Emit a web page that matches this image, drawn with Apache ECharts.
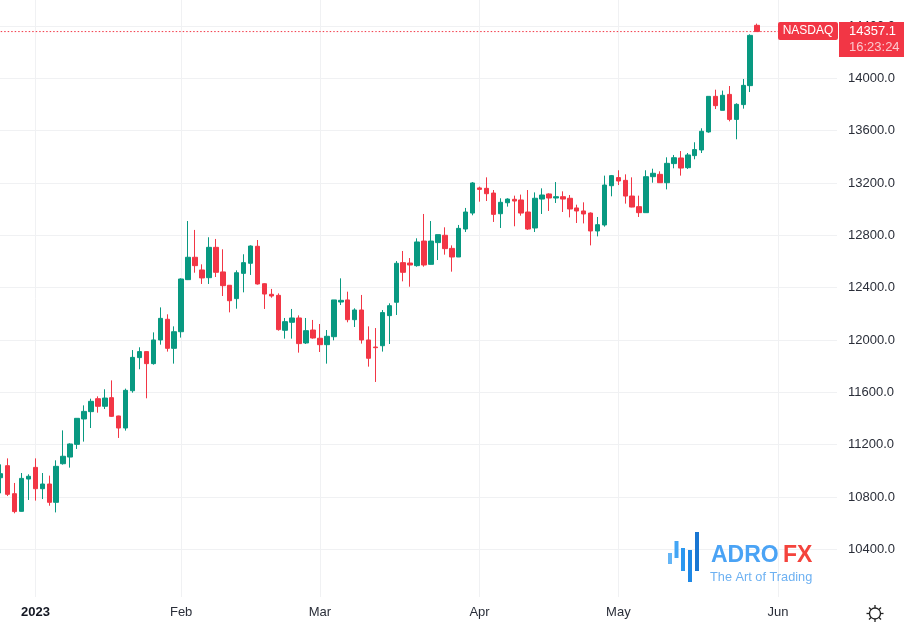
<!DOCTYPE html>
<html><head><meta charset="utf-8">
<style>html,body{margin:0;padding:0;background:#fff}#c{width:904px;height:624px}</style>
<script src="https://cdn.jsdelivr.net/npm/echarts@6/dist/echarts.min.js"></script>
</head><body><div id="c"></div>
<script>
const categories = ['12-26','12-27','12-28','12-29','12-30',
'01-03','01-04','01-05','01-06','01-09','01-10','01-11','01-12','01-13','01-16','01-17','01-18','01-19','01-20','01-23','01-24','01-25','01-26','01-27','01-30','01-31',
'02-01','02-02','02-03','02-06','02-07','02-08','02-09','02-10','02-13','02-14','02-15','02-16','02-17','02-20','02-21','02-22','02-23','02-24','02-27','02-28',
'03-01','03-02','03-03','03-06','03-07','03-08','03-09','03-10','03-13','03-14','03-15','03-16','03-17','03-20','03-21','03-22','03-23','03-24','03-27','03-28','03-29','03-30','03-31',
'04-03','04-04','04-05','04-06','04-07','04-10','04-11','04-12','04-13','04-14','04-17','04-18','04-19','04-20','04-21','04-24','04-25','04-26','04-27','04-28',
'05-01','05-02','05-03','05-04','05-05','05-08','05-09','05-10','05-11','05-12','05-15','05-16','05-17','05-18','05-19','05-22','05-23','05-24','05-25','05-26','05-29','05-30','05-31',
'06-01','06-02','06-05','06-06','06-07','06-08','06-09','06-12','06-13'];
const open = [10947,11039,10825,10690,10937,11026,10863,10899,10759,11054,11105,11202,11396,11452,11551,11493,11559,11419,11327,11612,11865,11911,11819,12000,12158,11936,
12063,12461,12632,12535,12476,12708,12520,12418,12316,12509,12586,12716,12430,12349,12341,12074,12135,12168,11977,12076,12013,11964,12025,12290,12306,12155,12229,12000,11946,11956,12186,12288,
12591,12588,12568,12756,12578,12744,12800,12700,12634,12848,12970,13162,13159,13123,12965,13049,13075,13070,12978,12856,13077,13116,13085,13095,13083,13009,12986,12970,12833,
12879,13179,13241,13220,13100,13019,12973,13248,13266,13202,13348,13391,13317,13409,13452,13590,13862,13755,13877,13686,13799,13944,14405];
const close = [10978,10820,10688,10942,10958,10863,10899,10759,11034,11111,11205,11401,11454,11531,11493,11556,11416,11327,11615,11867,11911,11819,12000,12165,11936,12063,
12466,12632,12568,12474,12708,12517,12415,12300,12514,12591,12718,12428,12351,12336,12079,12140,12168,11972,12071,12015,11964,12028,12306,12303,12155,12229,12000,11860,11941,12209,12262,12586,
12517,12573,12749,12573,12756,12805,12698,12634,12853,12978,13200,13151,13118,12960,13052,13077,13062,12970,12848,13083,13108,13085,13095,13077,13001,12986,12963,12833,12881,
13184,13256,13215,13100,13016,12973,13248,13274,13202,13350,13393,13314,13414,13455,13595,13862,13791,13870,13686,13801,13946,14328,14357.1];
const low = [10828,10807,10675,10688,10777,10772,10784,10733,10682,11047,11024,11167,11223,11327,11444,11472,11411,11251,11307,11597,11776,11554,11811,11964,11911,11819,
12018,12458,12514,12428,12428,12481,12336,12211,12239,12364,12497,12423,12237,12323,12071,12010,12010,11903,11969,12010,11908,11819,11997,12267,12135,12099,11972,11796,11679,11911,11969,12191,
12448,12407,12560,12560,12576,12611,12652,12522,12634,12825,12953,13057,13062,12902,12856,13019,12869,12950,12841,12825,12963,12986,13047,12978,12937,12894,12891,12723,12792,
12866,13098,13184,13042,13014,12940,12973,13202,13200,13151,13312,13256,13307,13381,13429,13584,13765,13755,13671,13534,13768,13895,14357];
const high = [11049,11095,10907,10983,10973,11095,10983,10963,11080,11309,11210,11401,11500,11551,11569,11623,11691,11421,11628,11923,11944,11913,12058,12249,12196,12104,
12471,12909,12841,12578,12785,12772,12693,12418,12532,12655,12723,12764,12433,12390,12356,12168,12237,12188,12168,12153,12122,12076,12306,12471,12369,12242,12344,12104,12091,12229,12280,12603,
12680,12626,12777,12963,12909,12805,12861,12723,12879,13009,13207,13172,13243,13146,13083,13083,13103,13111,13146,13128,13159,13121,13207,13136,13108,13034,13052,12975,12940,
13256,13261,13297,13266,13243,13103,13297,13309,13289,13396,13414,13444,13429,13511,13618,13862,13913,13906,13941,13809,13995,14336,14418];
const priceTicks = [10400,10800,11200,11600,12000,12400,12800,13200,13600,14000,14400];
const timeTickDates = ['01-03','02-01','03-01','04-03','05-01','06-01'];
const timeTickLabels = ['2023','Feb','Mar','Apr','May','Jun'];
const lastPrice = 14357.1;
const symbolName = 'NASDAQ';
const countdown = '16:23:24';

const UP = '#089981', DOWN = '#F23645', GRID = '#f0f1f3', TXT = '#2a2e39';
const FONT = '"Liberation Sans", Arial, sans-serif';
const ohlc = open.map((o, i) => [o, close[i], low[i], high[i]]);
const tickSet = (i, name) => timeTickDates.includes(name);

const bars = [
  [668, 553, 4, 11, '#64b5f6'],
  [674.5, 541, 4, 17, '#42a5f5'],
  [681, 548, 4, 23, '#2a97f0'],
  [688, 550, 4, 32, '#1e88e5'],
  [695, 532, 4, 39, '#1976d2']
];
const rays = [[875,605,875,608],[875,619,875,622],[866.5,613.5,869.5,613.5],[880.5,613.5,883.5,613.5],[869,607.5,871,609.5],[879,617.5,881,619.5],[881,607.5,879,609.5],[871,617.5,869,619.5]];
const graphic = [
  {type:'rect', z:50, shape:{x:778,y:22,width:60,height:18,r:2}, style:{fill:DOWN}},
  {type:'text', z:51, x:808, y:31, style:{text:symbolName, fill:'#fff', font:'12px '+FONT, align:'center', verticalAlign:'middle'}},
  {type:'rect', z:50, shape:{x:839,y:22,width:65,height:35}, style:{fill:DOWN}},
  {type:'text', z:51, x:849, y:31.5, style:{text:lastPrice.toFixed(1), fill:'#fff', font:'13px '+FONT, verticalAlign:'middle'}},
  {type:'text', z:51, x:849, y:47.5, style:{text:countdown, fill:'#fbc9ce', font:'13px '+FONT, verticalAlign:'middle'}},
  ...bars.map(b => ({type:'rect', z:40, shape:{x:b[0],y:b[1],width:b[2],height:b[3]}, style:{fill:b[4]}})),
  {type:'text', z:41, x:711, y:555.5, style:{text:'ADRO', fill:'#4aa3f5', font:'bold 23px '+FONT, verticalAlign:'middle'}},
  {type:'text', z:41, x:783, y:555.5, style:{text:'FX', fill:'#f4433c', font:'bold 23px '+FONT, verticalAlign:'middle'}},
  {type:'text', z:41, x:710, y:577, style:{text:'The Art of Trading', fill:'#6db1f2', font:'12.75px '+FONT, verticalAlign:'middle'}},
  {type:'circle', z:40, shape:{cx:875,cy:613.5,r:5.5}, style:{fill:'none',stroke:'#222',lineWidth:1.3}},
  ...rays.map(r => ({type:'line', z:40, shape:{x1:r[0],y1:r[1],x2:r[2],y2:r[3]}, style:{stroke:'#222',lineWidth:1.3}}))
];

const chart = echarts.init(document.getElementById('c'), null, {renderer:'canvas'});
chart.setOption({
  animation:false,
  backgroundColor:'#fff',
  textStyle:{fontFamily:FONT},
  grid:{left:-2.77, top:0, width:839.74, height:597, containLabel:false, outerBoundsMode:'none'},
  xAxis:{
    type:'category', data:categories, boundaryGap:true,
    axisLine:{show:false}, axisTick:{show:false},
    splitLine:{show:true, alignWithLabel:true, interval:tickSet, lineStyle:{color:GRID,width:1}},
    axisLabel:{
      interval:tickSet, margin:9, fontSize:13, color:TXT, hideOverlap:false,
      formatter:v => { const k = timeTickDates.indexOf(v); return k === 0 ? '{b|'+timeTickLabels[0]+'}' : (k > 0 ? timeTickLabels[k] : ''); },
      rich:{b:{fontWeight:'bold', fontSize:13, color:'#131722'}}
    }
  },
  yAxis:{
    type:'value', position:'right', scale:true, min:10035.3, max:14598.5,
    axisLine:{show:false},
    axisTick:{show:false, customValues:priceTicks},
    splitLine:{show:true, customValues:priceTicks, lineStyle:{color:GRID,width:1}},
    axisLabel:{customValues:priceTicks, margin:11, fontSize:13, color:TXT, formatter:v => v.toFixed(1)}
  },
  series:[{
    type:'candlestick', data:ohlc, barWidth:5,
    itemStyle:{color:UP,color0:DOWN,borderColor:UP,borderColor0:DOWN,borderWidth:1}
  },{
    type:'line', data:categories.map(() => lastPrice), showSymbol:false, silent:true, z:1,
    lineStyle:{color:DOWN, type:[1.5,2], width:1}, itemStyle:{color:DOWN}
  }],
  graphic
});
</script></body></html>
